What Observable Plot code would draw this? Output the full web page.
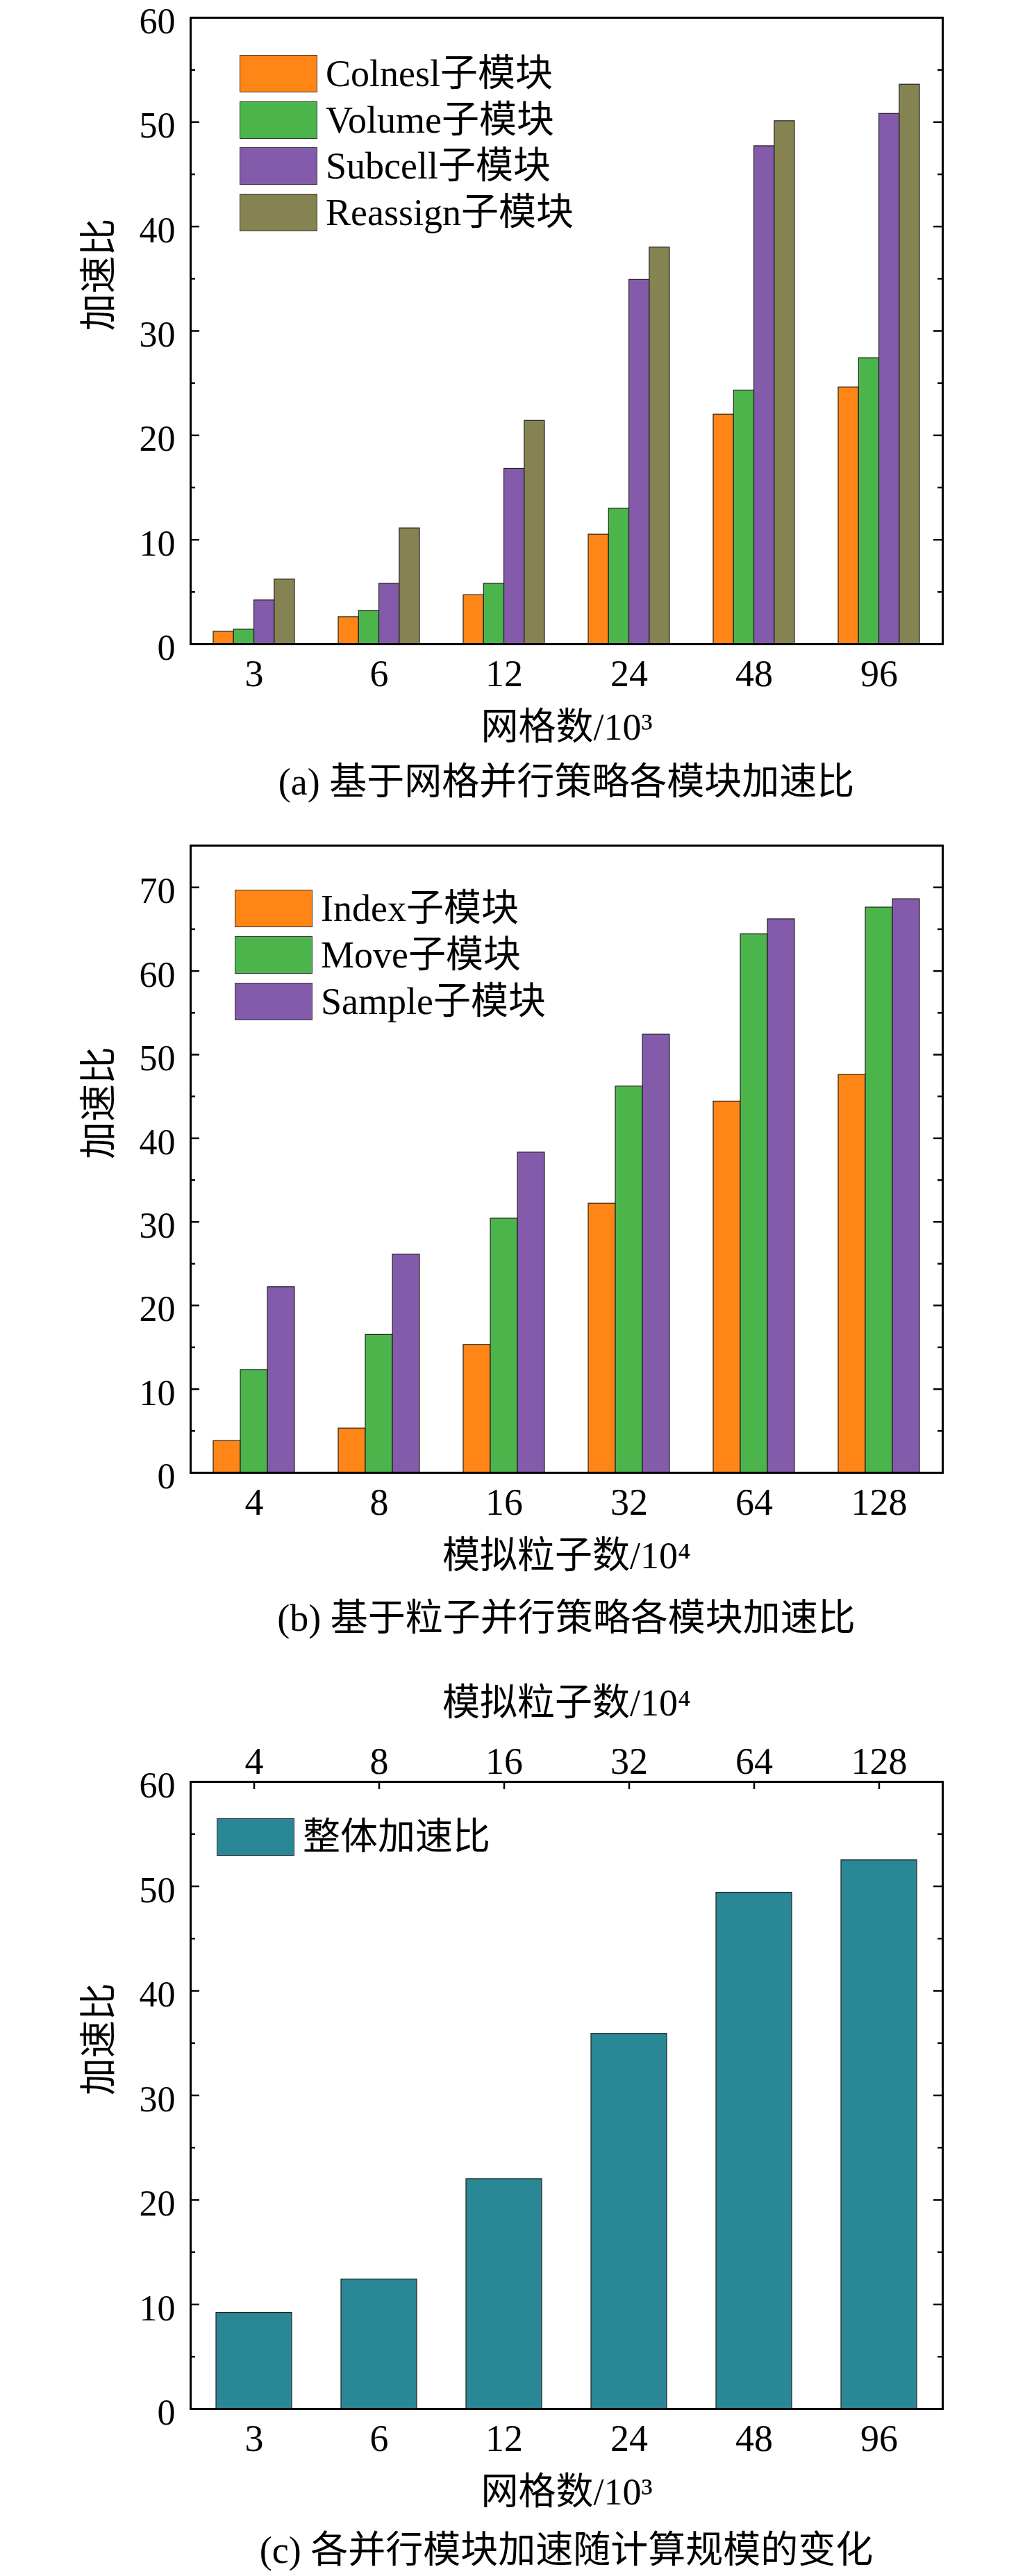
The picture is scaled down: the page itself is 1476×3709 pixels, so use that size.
<!DOCTYPE html>
<html>
<head>
<meta charset="utf-8">
<script src="https://cdn.jsdelivr.net/npm/d3@7"></script>
<script src="https://cdn.jsdelivr.net/npm/@observablehq/plot@0.6"></script>
<style>
  html, body { margin: 0; padding: 0; background: #fff; }
  #page { position: relative; width: 1476px; height: 3709px; background: #fff; overflow: hidden;
          font-family: "Liberation Serif", "Noto Sans CJK SC", serif; color: #000; }
  .fig { position: absolute; left: 0; }
  .cap { position: absolute; left: 274px; width: 1083px; text-align: center; font-size: 54px; line-height: 80px; height: 80px; white-space: nowrap; }
  .leg { position: absolute; }
  .leg .row { position: absolute; left: 0; display: flex; align-items: center; white-space: nowrap; }
  .leg .sw { width: 110px; height: 52px; border: 1.5px solid #333; box-sizing: content-box; }
  .leg .lab { font-size: 54px; margin-left: 12px; line-height: 54px; }
</style>
</head>
<body>
<div id="page"></div>
<script>
// ---------------- data ----------------
const gridCats = ["3", "6", "12", "24", "48", "96"];
const particleCats = ["4", "8", "16", "32", "64", "128"];

const seriesA = ["Colnesl子模块", "Volume子模块", "Subcell子模块", "Reassign子模块"];
const colneslA = [1.2, 2.6, 4.7, 10.5, 22.0, 24.6];
const volumeA = [1.4, 3.2, 5.8, 13.0, 24.3, 27.4];
const subcellA = [4.2, 5.8, 16.8, 34.9, 47.7, 50.8];
const reassignA = [6.2, 11.1, 21.4, 38.0, 50.1, 53.6];

const seriesB = ["Index子模块", "Move子模块", "Sample子模块"];
const indexB = [3.8, 5.3, 15.3, 32.2, 44.4, 47.6];
const moveB = [12.3, 16.5, 30.4, 46.2, 64.4, 67.6];
const sampleB = [22.2, 26.1, 38.3, 52.4, 66.2, 68.6];

const seriesC = ["整体加速比"];
const overallC = [9.2, 12.4, 22.0, 35.9, 49.4, 52.5];

const ticksA = [0, 10, 20, 30, 40, 50, 60];
const ticksB = [0, 10, 20, 30, 40, 50, 60, 70];
const ticksC = [0, 10, 20, 30, 40, 50, 60];

const xTitleGrid = "网格数/10³";
const xTitleParticle = "模拟粒子数/10⁴";
const yTitle = "加速比";
const captions = ["(a) 基于网格并行策略各模块加速比", "(b) 基于粒子并行策略各模块加速比", "(c) 各并行模块加速随计算规模的变化"];

const colors4 = ["#FF8517", "#4BB54B", "#845BAA", "#858352"];
const colorTeal = "#2A8795";

// ---------------- layout constants ----------------
const W = 1476, ML = 274, MR = 119;
const plotW = W - ML - MR;
const FONT = "Liberation Serif, Noto Sans CJK SC, serif";
const FS = 54;

function minorTicks(major) {
  const out = [];
  for (let i = 0; i < major.length - 1; i++) out.push((major[i] + major[i + 1]) / 2);
  return out;
}

function makeChart({cats, seriesValues, colors, yMax, yTicks, height, mt, mb, padInner, padOuter, xTitle, topCats, topTitle}) {
  const plotH = height - mt - mb;
  const n = cats.length, k = seriesValues.length;
  const step = plotW / (n - padInner + 2 * padOuter);
  const bw = step * (1 - padInner);
  const w = bw / k;
  const marks = [];
  seriesValues.forEach((vals, i) => {
    marks.push(Plot.barY(cats, {
      x: d => d, y: (d, j) => vals[j],
      fill: colors[i], stroke: "#222", strokeWidth: 1.2,
      insetLeft: i * w, insetRight: (k - 1 - i) * w
    }));
  });
  const minor = minorTicks(yTicks).filter(v => v <= yMax);
  // inward y ticks, left and right
  marks.push(Plot.tickY(yTicks, {y: d => d, stroke: "#000", strokeWidth: 2.5, insetRight: plotW - 13}));
  marks.push(Plot.tickY(yTicks, {y: d => d, stroke: "#000", strokeWidth: 2.5, insetLeft: plotW - 13}));
  marks.push(Plot.tickY(minor, {y: d => d, stroke: "#000", strokeWidth: 2.5, insetRight: plotW - 7}));
  marks.push(Plot.tickY(minor, {y: d => d, stroke: "#000", strokeWidth: 2.5, insetLeft: plotW - 7}));
  marks.push(Plot.axisY({ticks: yTicks, tickSize: 0, tickPadding: 22, fontSize: 52, dy: 6, tickFormat: d => String(d), label: null}));
  marks.push(Plot.axisX({tickSize: 0, tickPadding: 22, fontSize: FS, label: null}));
  marks.push(Plot.text([xTitle], {frameAnchor: "bottom", text: d => d, dy: 120, lineAnchor: "middle", fontSize: FS}));
  marks.push(Plot.text([yTitle], {frameAnchor: "left", text: d => d, dx: -131, rotate: -90, lineAnchor: "middle", fontSize: FS}));
  if (topCats) {
    marks.push(Plot.tickX(cats, {x: d => d, stroke: "#000", strokeWidth: 2.5, insetBottom: plotH - 11}));
    marks.push(Plot.text(cats, {x: d => d, text: (d, i) => topCats[i], frameAnchor: "top", lineAnchor: "bottom", dy: -12, fontSize: FS}));
    marks.push(Plot.text([topTitle], {frameAnchor: "top", text: d => d, dy: -113, lineAnchor: "middle", fontSize: FS}));
  }
  marks.push(Plot.frame({stroke: "#000", strokeWidth: 3}));
  return Plot.plot({
    width: W, height,
    marginLeft: ML, marginRight: MR, marginTop: mt, marginBottom: mb,
    style: {fontFamily: FONT, fontSize: FS + "px", background: "transparent", color: "#000", overflow: "visible"},
    x: {type: "band", domain: cats, paddingInner: padInner, paddingOuter: padOuter, axis: null},
    y: {domain: [0, yMax], axis: null},
    marks
  });
}

const page = document.getElementById("page");
function place(el, top) {
  const d = document.createElement("div");
  d.className = "fig";
  d.style.top = top + "px";
  d.appendChild(el);
  page.appendChild(d);
}
function caption(text, centerY) {
  const d = document.createElement("div");
  d.className = "cap";
  d.style.top = (centerY - 40) + "px";
  d.textContent = text;
  page.appendChild(d);
}
function legend(items, colors, left, top, rowStep) {
  const g = document.createElement("div");
  g.className = "leg";
  g.style.left = left + "px";
  g.style.top = top + "px";
  items.forEach((t, i) => {
    const r = document.createElement("div");
    r.className = "row";
    r.style.top = (i * rowStep) + "px";
    const sw = document.createElement("div");
    sw.className = "sw";
    sw.style.background = colors[i];
    const lab = document.createElement("span");
    lab.className = "lab";
    lab.textContent = t;
    r.appendChild(sw); r.appendChild(lab);
    g.appendChild(r);
  });
  page.appendChild(g);
}

// (a)
place(makeChart({
  cats: gridCats, seriesValues: [colneslA, volumeA, subcellA, reassignA], colors: colors4,
  yMax: 60, yTicks: ticksA, height: 1080, mt: 25, mb: 153, padInner: 0.35, padOuter: 0.18,
  xTitle: xTitleGrid
}), 0);
legend(seriesA, colors4, 345, 79, 66.5);
caption(captions[0], 1126);

// (b)
place(makeChart({
  cats: particleCats, seriesValues: [indexB, moveB, sampleB], colors: colors4,
  yMax: 75, yTicks: ticksB, height: 1120, mt: 57, mb: 160, padInner: 0.35, padOuter: 0.18,
  xTitle: xTitleParticle
}), 1160);
legend(seriesB, colors4, 338, 1281, 67);
caption(captions[1], 2330);

// (c)
place(makeChart({
  cats: gridCats, seriesValues: [overallC], colors: [colorTeal],
  yMax: 60, yTicks: ticksC, height: 1250, mt: 185, mb: 162, padInner: 0.396, padOuter: 0.198,
  xTitle: xTitleGrid, topCats: particleCats, topTitle: xTitleParticle
}), 2380);
legend(seriesC, [colorTeal], 312, 2618, 67);
caption(captions[2], 3672);
</script>
</body>
</html>
